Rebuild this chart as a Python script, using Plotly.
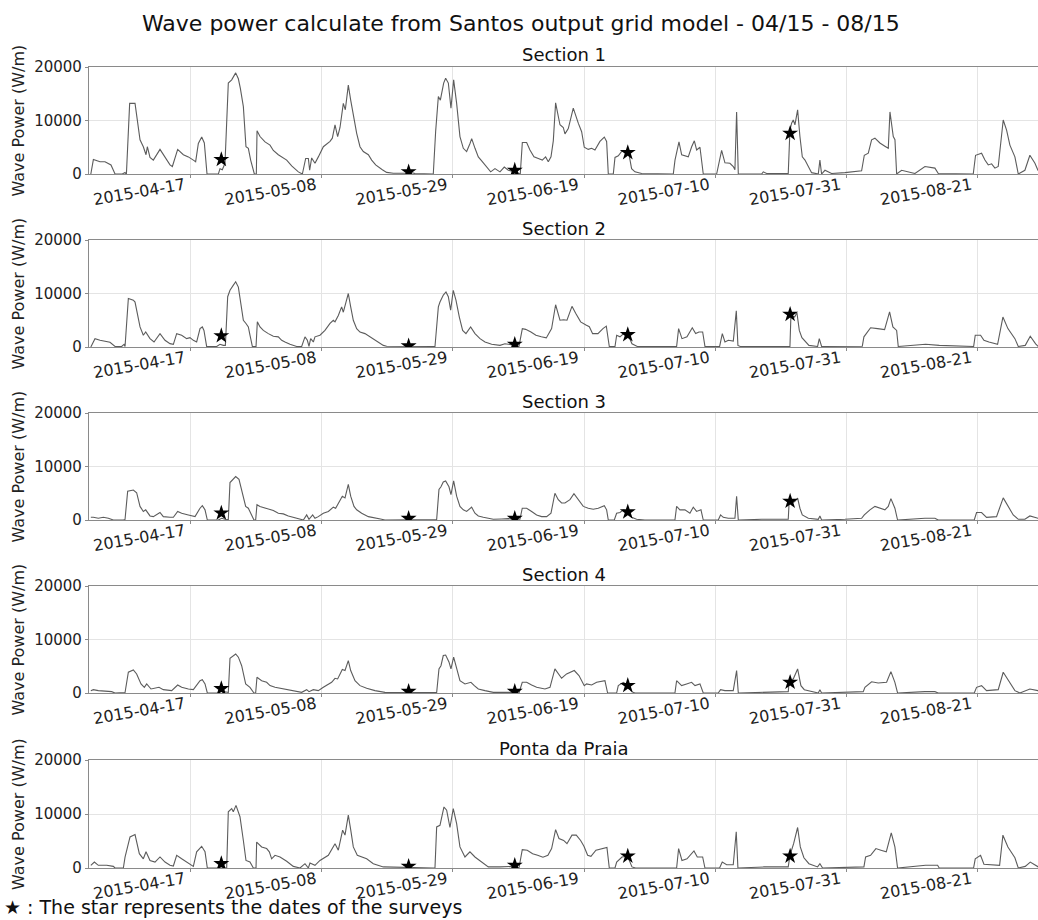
import plotly.graph_objects as go
import pandas as pd

T0 = pd.Timestamp("2015-04-01")

sections = ["Section 1", "Section 2", "Section 3", "Section 4", "Ponta da Praia"]
tick_dates = ["2015-04-17", "2015-05-08", "2015-05-29", "2015-06-19",
              "2015-07-10", "2015-07-31", "2015-08-21"]
y_ticks = [0, 10000, 20000]

# survey dates (days after 2015-04-01) and star values per section
survey_days = [20.9, 50.9, 67.9, 86.0, 112.0]
stars_s1 = [2700, 400, 700, 4000, 7600]
stars_s2 = [2100, 200, 500, 2300, 6100]
stars_s3 = [1300, 300, 300, 1500, 3500]
stars_s4 = [800, 300, 300, 1400, 2000]
stars_sp = [800, 300, 500, 2200, 2200]

# (days after 2015-04-01, wave power W/m)
s1 = [(0.0, 0), (0.41, 2700), (1.47, 2300), (2.27, 2300), (3.23, 1700), (3.88, 0), (5.05, 0), (5.48, 300),
      (5.64, 0), (5.70, 0), (6.22, 13200), (7.08, 13200), (7.88, 6400), (8.41, 5100), (8.84, 3600),
      (9.05, 5100), (9.48, 3100), (10.01, 2600), (11.08, 4600), (11.88, 3200), (12.68, 1700), (13.06, 1400),
      (13.91, 4600), (14.82, 3600), (15.62, 3200), (16.42, 2600), (16.79, 2300), (17.22, 5700), (17.76, 6900),
      (18.18, 5800), (18.61, 0), (20.43, 0), (20.69, 1000), (21.06, 800), (21.49, 2000), (22.02, 17000),
      (22.56, 17600), (23.20, 18900), (23.63, 17800), (23.95, 16000), (24.43, 12600), (24.85, 5100),
      (25.23, 4800), (25.60, 2600), (26.19, 0), (26.51, 0), (26.62, 8100), (27.10, 7000), (27.90, 6000),
      (28.70, 5400), (29.23, 4400), (30.03, 3600), (30.57, 3200), (31.37, 2600), (32.17, 1500), (33.24, 400),
      (33.88, 0), (34.41, 2900), (34.84, 2900), (35.05, 700), (35.37, 3000), (35.90, 2000), (36.44, 3200),
      (37.24, 5100), (38.31, 6100), (38.68, 6700), (39.11, 9200), (39.53, 7000), (39.91, 8700), (40.44, 13200),
      (40.76, 12000), (41.24, 16600), (41.62, 13800), (42.15, 10100), (42.58, 7600), (43.11, 5100),
      (43.64, 4200), (44.45, 3600), (44.98, 2600), (45.62, 1700), (46.15, 1200), (46.69, 800), (47.38, 300),
      (48.45, 150), (50.32, 150), (51.12, 300), (51.92, 100), (54.85, 0), (55.23, 8000), (55.66, 14500),
      (55.98, 13800), (56.51, 17000), (56.83, 17900), (57.26, 17000), (57.68, 12300), (58.11, 17600),
      (58.59, 13200), (59.12, 7000), (59.66, 4800), (60.19, 4200), (60.73, 5700), (61.00, 6600), (61.53, 4800),
      (62.06, 3200), (62.70, 2300), (63.40, 1300), (64.04, 400), (64.73, 1000), (65.53, 400), (66.22, 1300),
      (66.86, 700), (67.93, 400), (68.57, 0), (68.78, 0), (69.11, 5900), (69.80, 5900), (70.33, 4500),
      (70.97, 3200), (71.67, 2900), (72.31, 2600), (72.84, 3200), (73.27, 2300), (73.70, 3200), (74.07, 6200),
      (74.44, 13300), (75.14, 9200), (75.67, 8700), (75.94, 7500), (76.47, 8500), (77.27, 12300), (78.07, 9500),
      (78.61, 7900), (79.03, 5000), (79.67, 4600), (80.21, 4800), (80.74, 4500), (81.54, 6100), (82.24, 6900),
      (82.61, 6100), (82.88, 0), (83.68, 0), (83.95, 3100), (84.48, 3400), (85.01, 4200), (85.81, 4200),
      (86.19, 3700), (86.61, 1000), (87.15, 400), (88.22, 100), (93.29, 0), (93.56, 2600), (94.20, 6000),
      (94.63, 3600), (95.69, 3200), (96.23, 5100), (96.66, 6200), (97.03, 4500), (97.56, 5000), (98.09, 0),
      (100.23, 0), (101.03, 4400), (101.56, 2100), (102.36, 2000), (102.90, 1400), (103.16, 800),
      (103.43, 11600), (103.70, 0), (107.44, 0), (107.70, 400), (108.24, 100), (111.70, 100), (111.97, 8200),
      (112.24, 9500), (112.50, 10100), (112.77, 9200), (113.20, 12000), (113.57, 7000), (113.95, 3200),
      (114.38, 2600), (114.91, 1400), (115.44, 250), (116.51, 0), (116.77, 2600), (117.04, 0), (117.58, 700),
      (118.64, 100), (120.78, 250), (123.45, 600), (123.88, 3500), (124.52, 3900), (125.05, 6400),
      (125.58, 6700), (126.38, 5800), (127.18, 5200), (127.72, 4800), (127.99, 11600), (128.52, 7000),
      (128.79, 6400), (129.06, 0), (129.86, 700), (130.92, 400), (131.99, 100), (133.59, 1400), (135.19, 1100),
      (135.73, 100), (141.33, 0), (141.70, 3500), (142.66, 3900), (143.20, 2600), (143.73, 1700),
      (144.27, 1900), (144.80, 1100), (145.33, 1400), (146.13, 10100), (146.67, 8200), (147.20, 5400),
      (148.00, 3200), (148.54, 0), (149.60, 700), (150.40, 3500), (151.21, 2000), (151.69, 700), (152.9, 300)]

s2 = [(0.0, 0), (0.67, 1560), (1.47, 1250), (2.27, 1130), (3.07, 875), (3.88, 100), (4.94, 100), (5.32, 500),
      (5.48, 100), (6.01, 9060), (6.81, 8750), (7.08, 8400), (7.88, 3750), (8.41, 2200), (8.79, 2800),
      (9.48, 1560), (10.12, 940), (11.08, 2500), (11.88, 1250), (12.68, 625), (13.22, 500), (13.75, 2500),
      (14.55, 2200), (15.35, 1560), (15.88, 1750), (16.42, 1250), (16.95, 940), (17.49, 3440), (17.86, 3750),
      (18.12, 3100), (18.55, 100), (20.16, 100), (20.69, 500), (21.22, 300), (21.55, 300), (21.92, 9400),
      (22.29, 10600), (22.83, 11560), (23.20, 12200), (23.63, 11200), (24.00, 8100), (24.43, 5000),
      (24.85, 4400), (25.23, 3750), (25.49, 2200), (25.87, 100), (26.46, 100), (26.67, 4700), (27.10, 3750),
      (27.63, 3100), (28.43, 2500), (29.23, 2000), (30.03, 1900), (30.57, 1250), (31.10, 940), (31.90, 500),
      (32.97, 100), (33.77, 100), (34.30, 1900), (34.68, 1250), (34.94, 100), (35.21, 1560), (35.64, 940),
      (35.90, 1900), (36.70, 2200), (37.50, 3100), (38.31, 4400), (38.84, 5000), (39.11, 4700), (39.64, 5900),
      (40.17, 7500), (40.44, 6500), (40.87, 8400), (41.24, 10000), (41.62, 7500), (42.04, 5000), (42.58, 3440),
      (43.11, 2800), (43.91, 2500), (44.71, 1900), (45.52, 1250), (46.32, 750), (46.85, 300), (47.38, 150),
      (54.85, 150), (55.12, 100), (55.66, 7500), (55.92, 8400), (56.46, 9700), (56.88, 10300), (57.26, 9400),
      (57.63, 6900), (58.05, 10600), (58.48, 8750), (59.02, 5600), (59.55, 3100), (60.08, 2500), (60.83, 3750),
      (61.53, 2500), (62.33, 1560), (63.13, 940), (64.20, 500), (65.53, 300), (66.33, 600), (67.66, 400),
      (68.47, 150), (68.57, 100), (69.11, 3440), (69.64, 3300), (70.49, 2800), (71.29, 2200), (72.15, 1900),
      (72.95, 1700), (73.80, 3440), (74.44, 7900), (75.14, 5000), (75.73, 5100), (76.26, 5000), (77.06, 7600),
      (77.65, 6300), (78.45, 4700), (79.30, 4100), (79.84, 3800), (80.37, 2500), (81.22, 2500), (82.02, 3440),
      (82.56, 3900), (83.04, 100), (83.95, 100), (84.22, 2200), (84.75, 1900), (85.34, 2500), (85.97, 2500),
      (86.67, 600), (87.25, 300), (87.52, 100), (93.82, 100), (94.14, 3440), (94.68, 1560), (95.48, 1900),
      (96.33, 3600), (96.87, 2500), (97.40, 2800), (97.99, 2800), (98.36, 100), (100.71, 100), (101.14, 2500),
      (101.56, 940), (102.10, 1250), (102.90, 1100), (103.38, 6750), (103.64, 300), (104.01, 100),
      (111.97, 100), (112.13, 5900), (112.72, 5600), (113.09, 6400), (113.47, 3100), (113.89, 1750),
      (114.48, 940), (115.01, 300), (116.40, 100), (116.67, 1560), (117.04, 100), (123.56, 150), (123.82, 1900),
      (124.89, 3600), (126.01, 3440), (127.13, 3250), (127.93, 6560), (128.46, 3750), (129.06, 3100),
      (129.32, 100), (133.70, 500), (135.89, 300), (141.39, 100), (141.65, 2200), (142.50, 2200),
      (143.04, 1250), (143.84, 940), (144.69, 750), (145.23, 500), (146.08, 5600), (146.88, 3440),
      (148.00, 1560), (148.54, 100), (149.66, 300), (150.46, 2000), (151.32, 600), (151.74, 100), (152.9, 300)]

s3 = [(0.0, 500), (0.40, 500), (1.20, 320), (2.00, 500), (2.81, 320), (3.61, 0), (5.21, 0), (5.48, 100),
      (5.90, 5400), (6.81, 5600), (7.34, 5100), (7.88, 2540), (8.41, 1600), (8.79, 1900), (9.48, 760),
      (10.01, 630), (11.08, 1400), (11.61, 630), (12.68, 500), (13.22, 500), (13.91, 1600), (14.55, 1270),
      (15.62, 950), (16.69, 630), (17.49, 2200), (17.86, 2670), (18.29, 1900), (18.66, 0), (20.42, 0),
      (20.96, 320), (21.49, 130), (22.02, 100), (22.29, 7000), (22.82, 7600), (23.20, 8130), (23.73, 7600),
      (24.27, 5100), (24.80, 2540), (25.23, 2200), (25.60, 1270), (26.13, 0), (26.40, 0), (26.61, 2860),
      (27.09, 2540), (27.89, 2200), (28.70, 1900), (29.23, 1770), (30.03, 1270), (30.83, 1140), (31.63, 760),
      (32.43, 500), (33.50, 130), (34.04, 0), (34.57, 950), (34.94, 130), (35.53, 950), (35.90, 320),
      (36.43, 630), (37.24, 1270), (38.04, 1600), (38.84, 2400), (39.21, 2200), (39.64, 3175), (40.28, 4450),
      (40.71, 4130), (41.24, 6670), (41.62, 4450), (42.15, 2540), (42.58, 1900), (43.38, 1270), (44.45, 630),
      (45.51, 320), (46.58, 130), (47.11, 0), (55.12, 0), (55.39, 100), (55.76, 5700), (56.08, 6200),
      (56.45, 7100), (56.83, 7300), (57.36, 6200), (57.68, 4760), (58.11, 7300), (58.59, 4450), (59.12, 2540),
      (59.66, 1900), (60.19, 1600), (60.72, 2200), (60.99, 2400), (61.52, 1270), (62.06, 760), (62.86, 500),
      (63.66, 320), (64.46, 130), (65.80, 200), (66.86, 250), (67.66, 130), (68.73, 130), (69.10, 2200),
      (69.80, 2200), (70.60, 1600), (71.40, 950), (72.20, 630), (73.00, 630), (73.70, 1270), (74.33, 5000),
      (74.87, 3800), (75.40, 3175), (75.94, 3175), (76.74, 3800), (77.38, 4900), (78.07, 3800), (78.87, 2540),
      (79.67, 2200), (80.47, 2000), (81.27, 2200), (82.24, 2670), (82.61, 1900), (82.88, 0), (83.84, 0),
      (84.21, 1270), (84.75, 1400), (85.28, 1900), (85.97, 1600), (86.61, 500), (87.41, 130), (88.75, 0),
      (93.55, 0), (93.82, 2540), (94.35, 1900), (95.15, 1900), (95.95, 1270), (96.49, 2400), (97.02, 1600),
      (97.72, 1900), (98.09, 0), (100.49, 0), (100.86, 950), (101.29, 500), (102.09, 320), (103.16, 320),
      (103.43, 4450), (103.70, 0), (107.43, 130), (111.70, 130), (111.86, 3800), (112.34, 3175), (112.77, 3500),
      (113.20, 4100), (113.57, 2200), (113.95, 950), (114.91, 320), (116.51, 130), (116.77, 760), (117.04, 0),
      (120.78, 130), (123.45, 320), (123.88, 950), (124.78, 1900), (125.58, 2540), (126.38, 2200),
      (127.18, 1900), (127.72, 2540), (128.14, 4000), (128.78, 2200), (129.21, 0), (133.59, 320),
      (135.19, 320), (135.72, 0), (141.49, 0), (141.86, 1400), (142.66, 1400), (143.46, 500), (144.26, 500),
      (145.06, 630), (146.13, 4130), (146.93, 2540), (147.73, 950), (148.54, 130), (149.60, 130),
      (150.40, 760), (151.69, 320), (152.9, 100)]

s4 = [(0.0, 440), (0.40, 625), (1.20, 440), (2.27, 310), (3.34, 250), (3.87, 0), (5.21, 0), (5.48, 100),
      (6.01, 3900), (6.81, 4300), (7.34, 3560), (8.04, 1700), (8.57, 1060), (8.95, 1700), (9.64, 750),
      (10.92, 1060), (11.61, 625), (12.95, 440), (13.91, 1500), (14.55, 1060), (15.62, 750), (16.42, 625),
      (17.49, 2300), (17.86, 2500), (18.29, 1700), (18.66, 0), (20.42, 0), (20.85, 750), (21.49, 250),
      (22.02, 100), (22.29, 6500), (22.82, 6900), (23.20, 7300), (23.63, 6700), (24.16, 5100), (24.80, 1700),
      (25.49, 1060), (26.13, 0), (26.40, 0), (26.61, 2940), (27.36, 2300), (28.16, 2000), (28.70, 1375),
      (29.50, 1060), (31.10, 750), (32.43, 440), (33.77, 125), (34.57, 625), (34.94, 250), (35.64, 625),
      (36.43, 440), (37.24, 1060), (38.57, 2000), (39.11, 2750), (39.53, 2625), (40.28, 4400), (40.71, 4200),
      (41.24, 6060), (41.62, 4200), (42.31, 2300), (43.11, 1375), (44.18, 875), (45.51, 440), (47.11, 125),
      (55.12, 0), (55.39, 100), (55.76, 4500), (56.08, 5100), (56.45, 7000), (56.83, 7100), (57.36, 5800),
      (57.68, 4500), (58.11, 6700), (58.59, 4500), (59.12, 2300), (59.92, 1700), (60.88, 2000), (61.42, 1375),
      (62.06, 750), (63.13, 440), (64.46, 125), (67.93, 125), (68.57, 0), (69.10, 2000), (69.80, 2000),
      (70.60, 1500), (71.40, 1060), (72.73, 750), (73.54, 1060), (74.33, 4500), (74.87, 3560), (75.40, 2750),
      (76.20, 3560), (77.43, 4200), (78.18, 3250), (79.03, 1375), (79.40, 1700), (80.21, 1500), (81.01, 2000),
      (82.34, 2300), (82.77, 0), (84.21, 0), (84.48, 1375), (85.28, 2000), (85.97, 1500), (86.61, 250),
      (87.15, 0), (93.55, 0), (93.82, 2300), (94.62, 1375), (95.42, 1700), (96.22, 2000), (96.76, 1375),
      (97.56, 1700), (98.09, 0), (100.49, 0), (100.86, 625), (101.56, 440), (102.89, 440), (103.43, 4200),
      (103.70, 0), (111.70, 250), (111.86, 2300), (112.50, 2625), (113.20, 4500), (113.73, 1375),
      (114.27, 625), (116.51, 0), (116.77, 625), (117.04, 0), (123.71, 250), (123.98, 1060), (125.05, 2100),
      (126.11, 1875), (127.45, 2000), (128.14, 4000), (128.78, 2000), (129.21, 0), (133.59, 250),
      (135.19, 250), (135.72, 0), (141.49, 0), (141.86, 1060), (142.66, 1375), (143.46, 440), (145.33, 625),
      (146.13, 3875), (146.93, 2300), (148.00, 440), (148.80, 0), (150.40, 750), (151.69, 440), (152.9, 200)]

sp = [(0.0, 500), (0.57, 1100), (1.20, 500), (2.54, 500), (3.61, 300), (3.87, 0), (5.21, 0), (5.48, 2000),
      (6.28, 5750), (7.08, 6200), (7.77, 2660), (8.41, 1700), (8.84, 3000), (9.48, 1400), (10.28, 1100),
      (11.08, 2040), (11.88, 1100), (12.68, 500), (13.22, 370), (13.75, 2350), (14.55, 1700), (15.35, 1100),
      (16.42, 300), (16.95, 3000), (17.75, 4020), (18.29, 3000), (18.66, 0), (21.76, 0), (22.02, 10400),
      (22.56, 11000), (22.82, 10400), (23.25, 11600), (23.89, 9500), (24.43, 5100), (24.85, 1400),
      (25.49, 1100), (26.03, 0), (26.46, 0), (26.56, 4800), (27.36, 3900), (28.16, 3600), (28.59, 3000),
      (28.96, 1700), (29.50, 2350), (30.30, 2040), (31.37, 1240), (32.43, 300), (33.50, 0), (34.30, 800),
      (34.84, 0), (35.10, 930), (35.90, 500), (36.70, 1400), (38.04, 2350), (39.11, 4500), (39.64, 3300),
      (40.33, 7000), (40.71, 6100), (41.24, 9800), (41.62, 7100), (42.04, 3900), (42.68, 2350), (43.38, 2040),
      (44.18, 1700), (45.24, 800), (46.85, 200), (54.85, 0), (55.12, 0), (55.39, 7600), (55.92, 7900),
      (56.56, 11300), (56.99, 10700), (57.52, 7500), (58.05, 11000), (58.59, 8200), (59.12, 3900),
      (59.92, 2040), (60.72, 3000), (61.52, 2040), (62.59, 1100), (63.66, 200), (65.53, 200), (66.60, 300),
      (67.93, 300), (68.57, 0), (69.10, 3400), (69.90, 3300), (70.76, 2650), (71.56, 2350), (72.41, 2000),
      (73.21, 2350), (73.80, 3600), (74.44, 7100), (74.98, 5460), (75.73, 5100), (76.26, 4500), (77.06, 6080),
      (77.75, 6080), (78.45, 5100), (78.98, 4030), (79.57, 2350), (80.10, 2170), (80.90, 3300), (82.02, 3600),
      (82.66, 3800), (83.04, 0), (83.95, 0), (84.22, 1100), (85.07, 2040), (85.97, 2170), (86.67, 200),
      (87.26, 0), (93.82, 0), (94.14, 3600), (94.68, 1400), (95.48, 1700), (96.60, 3160), (97.13, 2040),
      (97.99, 2040), (98.36, 0), (100.70, 0), (101.13, 1100), (101.83, 600), (102.89, 600), (103.37, 6700),
      (103.64, 0), (107.86, 200), (111.70, 200), (111.97, 2350), (112.56, 4500), (113.20, 7500), (113.63, 3900),
      (114.21, 1900), (115.01, 800), (116.40, 200), (116.77, 800), (117.20, 0), (123.82, 200), (124.09, 2040),
      (124.89, 2350), (125.74, 3600), (126.54, 3300), (127.40, 3000), (128.20, 6500), (128.78, 3900),
      (129.21, 0), (133.70, 500), (135.62, 500), (135.88, 0), (141.38, 0), (141.65, 1700), (142.50, 2350),
      (143.04, 700), (145.55, 500), (146.08, 6080), (146.88, 3900), (148.00, 1900), (148.54, 0),
      (149.66, 300), (150.46, 1100), (151.74, 200), (152.9, 100)]

series = [s1, s2, s3, s4, sp]
stars = [stars_s1, stars_s2, stars_s3, stars_s4, stars_sp]


def to_dt(days):
    return [T0 + pd.Timedelta(days=d) for d in days]


W, H = 1038, 920
L = 89
# plot-area pixel rows (top, bottom) for the five panels
panel_px = [(67, 174), (240, 347), (413, 520), (586, 693), (760, 868)]
domains = [[1 - b / H, 1 - t / H] for t, b in panel_px]
x_range = [T0 - pd.Timedelta(hours=7), T0 + pd.Timedelta(days=151.7)]

FONT = "DejaVu Sans"
fig = go.Figure()
layout = dict(width=W, height=H, margin=dict(l=L, r=0, t=0, b=0, autoexpand=False),
              paper_bgcolor="white", plot_bgcolor="white", showlegend=False, template="none",
              font=dict(family=FONT, color="#222"))
annotations = []

for i, (name, data, st, dom) in enumerate(zip(sections, series, stars, domains), start=1):
    k = "" if i == 1 else str(i)
    xa, ya = "x" + k, "y" + k
    fig.add_trace(go.Scatter(x=to_dt([d for d, _ in data]), y=[v for _, v in data], mode="lines",
                             line=dict(color="#5c5c5c", width=1.1), xaxis=xa, yaxis=ya, hoverinfo="skip"))
    fig.add_trace(go.Scatter(x=to_dt(survey_days), y=st, mode="markers",
                             marker=dict(symbol="star", size=12, color="black", line=dict(width=0)),
                             xaxis=xa, yaxis=ya))
    layout["xaxis" + k] = dict(domain=[0, 1], anchor=ya, range=x_range, type="date", automargin=False,
                               tickvals=tick_dates, ticktext=tick_dates, tickangle=-10,
                               ticklabelstandoff=-8, ticklabelshift=-6,
                               tickfont=dict(size=16, family=FONT, color="#222"),
                               showgrid=True, gridcolor="#e4e4e4", gridwidth=1,
                               showline=True, linecolor="#8a8a8a", linewidth=1.3, mirror=True,
                               ticks="outside", ticklen=3, tickcolor="#8a8a8a", zeroline=False)
    layout["yaxis" + k] = dict(domain=dom, anchor=xa, range=[0, 20000], tickvals=y_ticks, automargin=False,
                               ticktext=[str(v) for v in y_ticks],
                               tickfont=dict(size=15, family=FONT, color="#222"),
                               showgrid=True, gridcolor="#e4e4e4", gridwidth=1,
                               showline=True, linecolor="#8a8a8a", linewidth=1.3, mirror=True,
                               ticks="outside", ticklen=3, tickcolor="#8a8a8a", zeroline=False)
    annotations.append(dict(text=name, xref="paper", yref="paper", x=0.5, y=dom[1] + 12 / H,
                            xanchor="center", yanchor="middle", showarrow=False,
                            font=dict(size=18, family=FONT, color="#111")))
    annotations.append(dict(text="Wave Power (W/m)", xref="paper", yref="paper",
                            x=(18 - L) / (W - L), y=(dom[0] + dom[1]) / 2, textangle=-90,
                            xanchor="center", yanchor="middle", showarrow=False,
                            font=dict(size=16, family=FONT, color="#222")))

annotations.append(dict(text="Wave power calculate from Santos output grid model - 04/15 - 08/15",
                        xref="paper", yref="paper", x=(521 - L) / (W - L), y=1 - 23 / H,
                        xanchor="center", yanchor="middle", showarrow=False,
                        font=dict(size=22, family=FONT, color="#111")))
annotations.append(dict(text="★ : The star represents the dates of the surveys",
                        xref="paper", yref="paper", x=(2 - L) / (W - L), y=1 - 907 / H,
                        xanchor="left", yanchor="middle", showarrow=False,
                        font=dict(size=19, family=FONT, color="#111")))
layout["annotations"] = annotations
fig.update_layout(**layout)
fig.write_html("out.html")
